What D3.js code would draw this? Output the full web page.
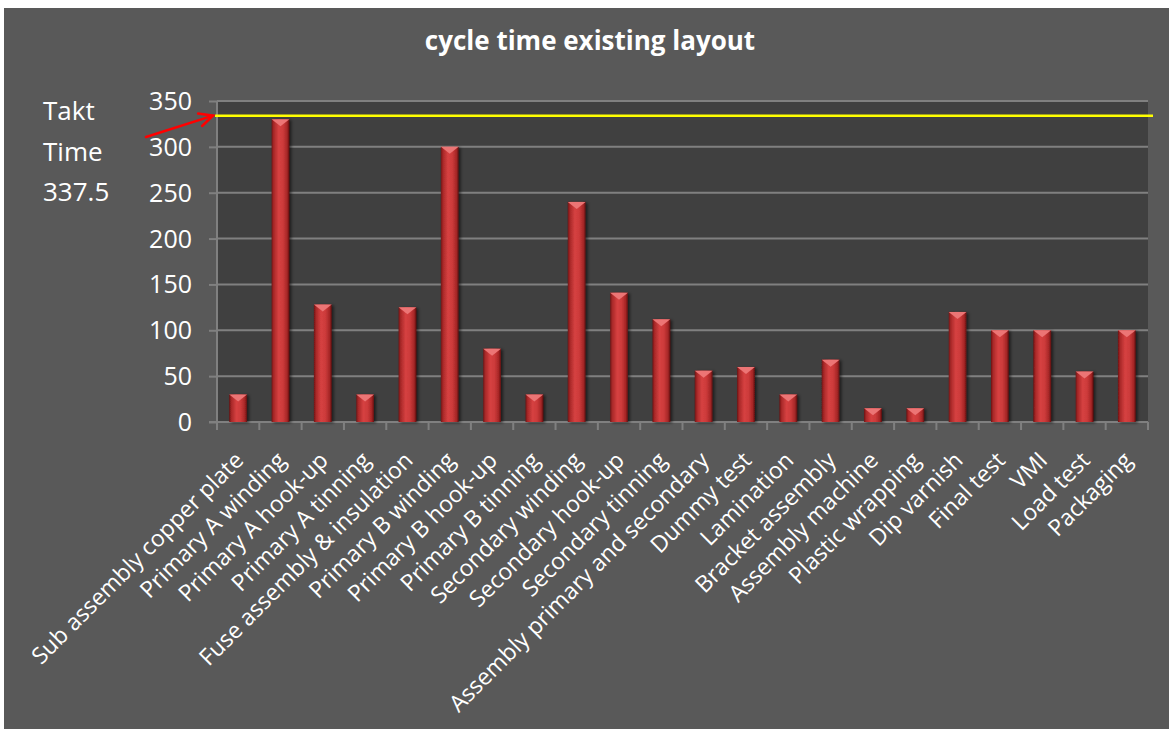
<!DOCTYPE html>
<html>
<head>
<meta charset="utf-8">
<script src="https://cdn.jsdelivr.net/npm/d3@7/dist/d3.min.js"></script>
<style>
  html, body { margin: 0; padding: 0; background: #ffffff; }
  svg { display: block; }
  text { font-family: "Open Sans", "Liberation Sans", sans-serif; fill: #ffffff; }
</style>
</head>
<body>
<svg id="chart" width="1169" height="729"></svg>
<script>
// ---- data ----
const categories = [
  "Sub assembly copper plate", "Primary A winding", "Primary A hook-up", "Primary A tinning",
  "Fuse assembly & insulation", "Primary B winding", "Primary B hook-up", "Primary B tinning",
  "Secondary winding", "Secondary hook-up", "Secondary tinning", "Assembly primary and secondary",
  "Dummy test", "Lamination", "Bracket assembly", "Assembly machine", "Plastic wrapping",
  "Dip varnish", "Final test", "VMI", "Load test", "Packaging"
];
const cycleTimes = [30, 330, 128, 30, 125, 300, 80, 30, 240, 141, 112, 56, 60, 30, 68, 15, 15, 120, 100, 100, 55, 100];
const yTicks = [0, 50, 100, 150, 200, 250, 300, 350];
const taktLine = 334;
const taktLabel = ["Takt", "Time", "337.5"];
const title = "cycle time existing layout";

// ---- layout ----
const W = 1169, H = 729;
const plot = { left: 217, right: 1148, top: 101, bottom: 422 };

const svg = d3.select("#chart");
const defs = svg.append("defs");

const grad = defs.append("linearGradient").attr("id", "barGrad")
  .attr("x1", "0%").attr("x2", "100%").attr("y1", "0%").attr("y2", "0%");
[["0%", "#6e1414"], ["12%", "#a82828"], ["40%", "#d64141"], ["65%", "#cc3a3a"], ["88%", "#a52626"], ["100%", "#5e0f0f"]]
  .forEach(([o, c]) => grad.append("stop").attr("offset", o).attr("stop-color", c));

const shadow = defs.append("filter").attr("id", "shadow")
  .attr("x", "-30%").attr("y", "-10%").attr("width", "180%").attr("height", "130%");
shadow.append("feDropShadow").attr("dx", 2).attr("dy", 1).attr("stdDeviation", 1.5)
  .attr("flood-color", "#000").attr("flood-opacity", 0.55);

// backgrounds
svg.append("rect").attr("x", 4).attr("y", 8).attr("width", W - 4).attr("height", H - 8).attr("fill", "#595959");
svg.append("rect").attr("x", plot.left).attr("y", plot.top)
  .attr("width", plot.right - plot.left).attr("height", plot.bottom - plot.top).attr("fill", "#404040");

// scales
const x = d3.scaleBand().domain(categories).range([plot.left, plot.right])
  .paddingInner(0.58).paddingOuter(0.29);
const y = d3.scaleLinear().domain([0, 350]).range([plot.bottom, plot.top]);

// gridlines
svg.append("g").selectAll("line").data(yTicks.filter(d => d > 0)).join("line")
  .attr("x1", plot.left).attr("x2", plot.right)
  .attr("y1", d => y(d)).attr("y2", d => y(d))
  .attr("stroke", "#808080").attr("stroke-width", 2);

// y axis
const yAxis = svg.append("g").attr("transform", `translate(${plot.left},0)`)
  .call(d3.axisLeft(y).tickValues(yTicks).tickSize(8).tickPadding(17).tickFormat(d3.format("d")));
yAxis.select(".domain").attr("stroke", "#808080").attr("stroke-width", 2).attr("d", `M0,${plot.top}V${plot.bottom}`);
yAxis.selectAll(".tick line").attr("stroke", "#808080").attr("stroke-width", 2);
yAxis.selectAll(".tick text").attr("fill", "#ffffff").style("font-size", "25px")
  .style("font-family", '"Open Sans", sans-serif').attr("dy", "0.34em");

// x axis baseline & tick marks at category boundaries
const step = x.step();
const offset = (step - x.bandwidth()) / 2;
const bounds = categories.map(c => x(c) - offset).concat([plot.right]);
svg.append("line").attr("x1", plot.left - 8).attr("x2", plot.right)
  .attr("y1", plot.bottom).attr("y2", plot.bottom).attr("stroke", "#808080").attr("stroke-width", 2);
svg.append("g").selectAll("line").data(bounds).join("line")
  .attr("x1", d => d).attr("x2", d => d)
  .attr("y1", plot.bottom).attr("y2", plot.bottom + 8)
  .attr("stroke", "#808080").attr("stroke-width", 2);

// bars
const bars = svg.append("g").selectAll("g").data(categories.map((c, i) => ({ c, v: cycleTimes[i] }))).join("g")
  .attr("filter", "url(#shadow)");
bars.append("rect")
  .attr("x", d => x(d.c)).attr("width", x.bandwidth())
  .attr("y", d => y(d.v)).attr("height", d => y(0) - y(d.v))
  .attr("fill", "url(#barGrad)");
bars.append("path")
  .attr("d", d => {
    const x0 = x(d.c), w = x.bandwidth(), t = y(d.v);
    return `M${x0},${t}L${x0 + w},${t}L${x0 + w / 2},${t + 7}Z`;
  })
  .attr("fill", "#ec7474");

// takt line
svg.append("line").attr("x1", plot.left - 2).attr("x2", plot.right + 5)
  .attr("y1", y(taktLine)).attr("y2", y(taktLine))
  .attr("stroke", "#ffff00").attr("stroke-width", 2.5);

// x labels
svg.append("g").selectAll("text").data(categories).join("text")
  .attr("transform", d => `translate(${x(d) + x.bandwidth() / 2 + 1},456) rotate(-45)`)
  .attr("text-anchor", "end").attr("dy", "0.35em")
  .style("font-size", "23px")
  .text(d => d);

// title
svg.append("text").attr("x", 590).attr("y", 50).attr("text-anchor", "middle")
  .style("font-size", "26px").style("font-weight", "bold").text(title);

// takt annotation text
svg.append("g").selectAll("text").data(taktLabel).join("text")
  .attr("x", 43).attr("y", (d, i) => 120 + i * 40.5)
  .style("font-size", "26px").text(d => d);

// red arrow
const tip = [213, y(taktLine)];
const tail = [146, 137];
const ang = Math.atan2(tip[1] - tail[1], tip[0] - tail[0]);
const headLen = 15, spread = 0.45;
const arrow = svg.append("g").attr("stroke", "#ff0000").attr("stroke-width", 2.5).attr("fill", "none")
  .attr("stroke-linecap", "round");
arrow.append("line").attr("x1", tail[0]).attr("y1", tail[1]).attr("x2", tip[0]).attr("y2", tip[1]);
arrow.append("path").attr("d",
  `M${tip[0] - headLen * Math.cos(ang - spread)},${tip[1] - headLen * Math.sin(ang - spread)}` +
  `L${tip[0]},${tip[1]}` +
  `L${tip[0] - headLen * Math.cos(ang + spread)},${tip[1] - headLen * Math.sin(ang + spread)}`);
</script>
</body>
</html>
